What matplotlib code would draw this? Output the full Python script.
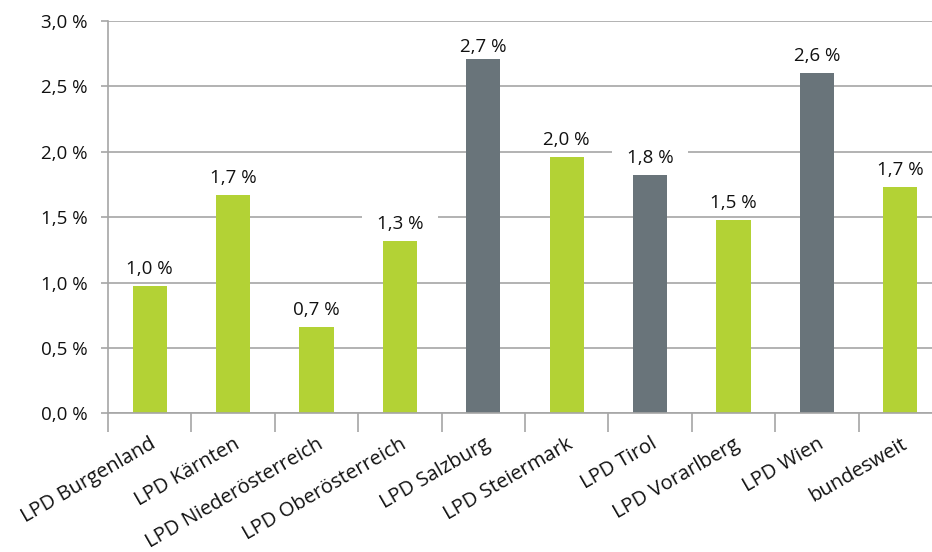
import matplotlib
matplotlib.use("Agg")
import matplotlib.pyplot as plt
from matplotlib.patches import Rectangle
from matplotlib.transforms import IdentityTransform, ScaledTranslation
import numpy as np

categories = ["LPD Burgenland", "LPD Kärnten", "LPD Niederösterreich", "LPD Oberösterreich",
              "LPD Salzburg", "LPD Steiermark", "LPD Tirol", "LPD Vorarlberg", "LPD Wien", "bundesweit"]
values = [0.97, 1.67, 0.66, 1.32, 2.71, 1.96, 1.82, 1.48, 2.60, 1.73]
highlight = [False, False, False, False, True, False, True, False, True, False]
yticks = [0.0, 0.5, 1.0, 1.5, 2.0, 2.5, 3.0]

GREEN = "#B3D235"
GREY = "#69747A"
GRID = "#A6A6A6"
TXT = "#111111"

plt.rcParams['font.family'] = ['Open Sans', 'DejaVu Sans']

W, H = 932, 552
fig = plt.figure(figsize=(W/100, H/100), dpi=100)
ax = fig.add_axes([108/W, 1-413.3/H, 834/W, (413.3-21)/H])

x = np.arange(len(categories))
colors = [GREY if h else GREEN for h in highlight]
ax.bar(x, values, width=0.41, color=colors, zorder=2)

ax.set_xlim(-0.5, len(categories)-0.5)
ax.set_ylim(0, 3.0)
ax.set_yticks(yticks)
ax.set_yticklabels([f"{t:.1f}".replace(".", ",") + " %" for t in yticks], fontsize=13.5, color=TXT)
ax.yaxis.grid(True, color=GRID, linewidth=1.2, zorder=0)
ax.set_axisbelow(True)

ax.set_xticks(x)
ax.set_xticklabels(categories, rotation=30, ha="right", va="top", rotation_mode="anchor",
                   fontsize=14.5, color=TXT)
shift = ScaledTranslation(-4/100, 0, fig.dpi_scale_trans)
for lab in ax.get_xticklabels():
    lab.set_transform(lab.get_transform() + shift)
ax.set_xticks(np.arange(-0.5, len(categories), 1.0), minor=True)
ax.tick_params(axis="x", which="major", length=0, pad=15)
ax.tick_params(axis="x", which="minor", length=14, width=1.2, color=GRID)
ax.tick_params(axis="y", length=5, width=1.2, color=GRID, pad=10)

for s in ["top", "right"]:
    ax.spines[s].set_visible(False)
for s in ["left", "bottom"]:
    ax.spines[s].set_color(GRID)
    ax.spines[s].set_linewidth(1.2)

fig.canvas.draw()
renderer = fig.canvas.get_renderer()
GAP = 12          # pixels between bar top and label baseline
MAX_BASE = H - 52  # highest allowed baseline (display coords)
texts = []
for xi, v in zip(x, values):
    top_px = ax.transData.transform((xi, v))[1]
    base = min(top_px + GAP, MAX_BASE)
    t = ax.annotate(f"{v:.1f}".replace(".", ",") + " %", (xi, v), xytext=(0, base - top_px),
                    textcoords="offset pixels", ha="center", va="baseline", fontsize=13.5,
                    color=TXT, zorder=4, annotation_clip=False)
    texts.append(t)

fig.canvas.draw()
for t in texts:
    bb = t.get_window_extent(renderer)
    r = Rectangle((bb.x0 - 15, bb.y0 + 1), bb.width + 30, bb.height - 1,
                  transform=IdentityTransform(), facecolor="white", edgecolor="none",
                  zorder=1.5)
    ax.add_patch(r)

fig.savefig("out.png", dpi=100)
